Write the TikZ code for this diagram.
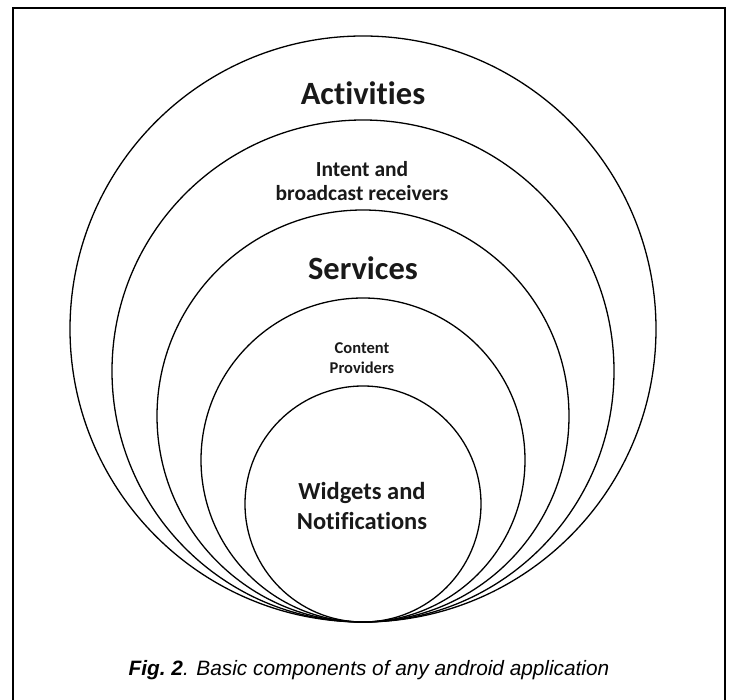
\documentclass[tikz,border=0pt]{standalone}
\usepackage{fontspec}
\setmainfont[Ligatures=NoCommon]{Carlito}
\newfontfamily\capfont{Liberation Sans}
\tikzstyle{ring}=[circle,draw=black,line width=1.3pt,inner sep=0pt,outer sep=0pt]
\tikzstyle{lbl}=[align=center,font=\bfseries,text=black!90]
\usetikzlibrary{positioning}

\begin{document}
\begin{tikzpicture}[x=1pt,y=-1pt]
            \useasboundingbox (0,0) rectangle (732,700);

            % frame (open at the bottom)
            \draw[line width=2pt] (13,700) -- (13,8) -- (725,8) -- (725,700);

            % nested rings, all touching at the bottom
            \coordinate (base) at (363,622);
            \node[ring,minimum size=586pt] (c1) at (363,329) {};
            \node[ring,minimum size=502pt] (c2) at (363,371) {};
            \node[ring,minimum size=412pt] (c3) at (363,416) {};
            \node[ring,minimum size=324pt] (c4) at (363,460) {};
            \node[ring,minimum size=236pt] (c5) at (363,504) {};

            % labels
            \node[lbl,font=\bfseries\fontsize{32.5}{36}\selectfont] (act) at (363,93) {Activities};
            \node[lbl,font=\bfseries\fontsize{21.5}{24}\selectfont] (ibr) at (362,181) {Intent and\\broadcast receivers};
            \node[lbl,font=\bfseries\fontsize{32.5}{36}\selectfont] (srv) at (363,268) {Services};
            \node[lbl,font=\bfseries\fontsize{16.5}{19.5}\selectfont] (cp) at (362,358) {Content\\Providers};
            \node[lbl,font=\bfseries\fontsize{24.5}{29.5}\selectfont] (wn) at (362,506) {Widgets and\\Notifications};

            % caption
            \node[font=\capfont\itshape\fontsize{20.8}{24}\selectfont] (cap) at (369,670)
                {\textbf{Fig.\ 2}. Basic components of any android application};
\end{tikzpicture}
\end{document}
